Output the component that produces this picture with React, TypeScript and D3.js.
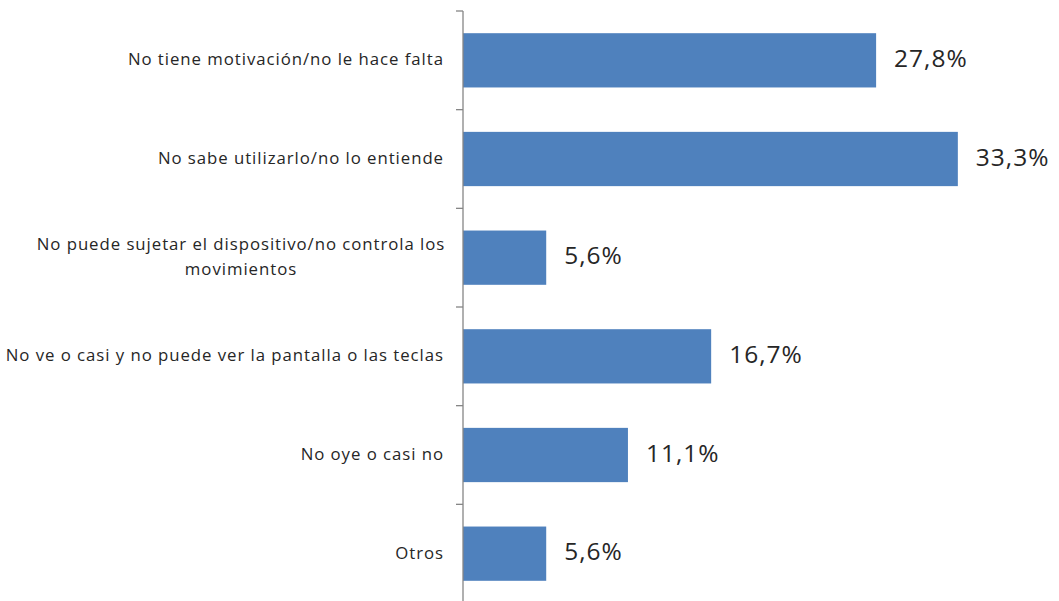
import React from "react";
import * as d3 from "d3";

const categories: string[][] = [
  ["No tiene motivación/no le hace falta"],
  ["No sabe utilizarlo/no lo entiende"],
  ["No puede sujetar el dispositivo/no controla los", "movimientos"],
  ["No ve o casi y no puede ver la pantalla o las teclas"],
  ["No oye o casi no"],
  ["Otros"],
];
const values: number[] = [27.8, 33.3, 5.6, 16.7, 11.1, 5.6];
const valueLabels: string[] = ["27,8%", "33,3%", "5,6%", "16,7%", "11,1%", "5,6%"];

const W = 1059;
const H = 601;
const axisX = 463;
const top = 11;
const bottom = 603;

export default function App() {
  const ids = categories.map((_, i) => String(i));
  const y = d3.scaleBand<string>().domain(ids).range([top, bottom]).paddingInner(0.45).paddingOuter(0.225);
  const x = d3.scaleLinear().domain([0, 35]).range([axisX, axisX + 35 * 14.86]);
  const step = y.step();
  const font = "'Open Sans', sans-serif";
  return (
    <svg width={W} height={H} style={{ position: "absolute", left: 0, top: 0, background: "#fff" }}>
      {values.map((v, i) => (
        <rect key={"b" + i} x={x(0)} y={y(ids[i])!} width={x(v) - x(0)} height={y.bandwidth()} fill="#4f81bd" />
      ))}
      <line x1={axisX} x2={axisX} y1={top} y2={bottom} stroke="#868686" strokeWidth={1.3} />
      {d3.range(categories.length + 1).map((k) => (
        <line key={"t" + k} x1={axisX - 7} x2={axisX} y1={top + k * step} y2={top + k * step} stroke="#868686" strokeWidth={1.3} />
      ))}
      {categories.map((lines, i) => {
        const cy = y(ids[i])! + y.bandwidth() / 2;
        const lh = 25;
        const y0 = cy - ((lines.length - 1) * lh) / 2;
        return (
          <text key={"c" + i} fontFamily={font} fontSize={16.8} letterSpacing={0.95} fill="#262626" dominantBaseline="middle">
            {lines.map((l, j) => (
              <tspan
                key={j}
                x={lines.length > 1 ? 241 : axisX - 19}
                y={y0 + j * lh}
                textAnchor={lines.length > 1 ? "middle" : "end"}
              >
                {l}
              </tspan>
            ))}
          </text>
        );
      })}
      {values.map((v, i) => (
        <text
          key={"v" + i}
          x={x(v) + 18}
          y={y(ids[i])! + y.bandwidth() / 2}
          fontFamily={font}
          fontSize={24.5}
          letterSpacing={1}
          fill="#262626"
          dominantBaseline="middle"
        >
          {valueLabels[i]}
        </text>
      ))}
    </svg>
  );
}
